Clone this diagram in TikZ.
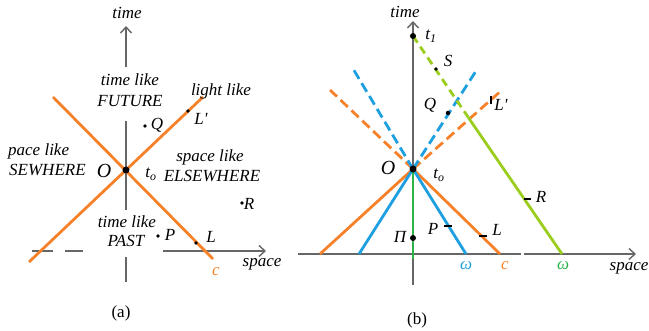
\documentclass[tikz,border=0pt]{standalone}
\usepackage{fontspec}
\setmainfont{Liberation Serif}
\usetikzlibrary{arrows.meta}
\definecolor{lcorange}{HTML}{F5822A}
\definecolor{lcblue}{HTML}{1E9FE0}
\definecolor{lclime}{HTML}{9ACD1E}
\definecolor{lcgreen}{HTML}{2DB34A}
\definecolor{axisgray}{HTML}{666666}
\begin{document}
\begin{tikzpicture}[x=1pt,y=-1pt,
  lbl/.style={font=\fontsize{17}{19}\selectfont\itshape, inner sep=0pt},
  capt/.style={font=\fontsize{17}{19}\selectfont, inner sep=0pt},
  axisline/.style={draw=axisgray, line width=1.4pt},
  axarrow/.style={-{Straight Barb[length=6pt,width=11pt]}},
  coneline/.style={line width=2.8pt},
  dashcone/.style={line width=2.8pt, dash pattern=on 10pt off 5pt},
  bigdot/.style={circle, fill=black, inner sep=0pt, minimum size=7pt},
  smalldot/.style={circle, fill=black, inner sep=0pt, minimum size=3.8pt},
  tickmark/.style={draw=black, line width=2.2pt}]
\useasboundingbox (0,0) rectangle (649,331);

% ---------------- panel (a) ----------------
\coordinate (Oa) at (126,170);
\coordinate (aTtop) at (126,26);
\coordinate (aT1) at (126,67);
\coordinate (aT2) at (126,121);
\coordinate (aT3) at (126,210);
\coordinate (aT4) at (126,257);
\coordinate (aT5) at (126,282);
\draw[axisline, axarrow] (aT1) -- (aTtop);
\draw[axisline] (aT2) -- (aT3);
\draw[axisline] (aT4) -- (aT5);
\coordinate (aS1) at (32,251);
\coordinate (aS2) at (53,251);
\coordinate (aS3) at (65,251);
\coordinate (aS4) at (83,251);
\coordinate (aS5) at (163,251);
\coordinate (aS6) at (266,251);
\draw[axisline] (aS1) -- (aS2);
\draw[axisline] (aS3) -- (aS4);
\draw[axisline, axarrow] (aS5) -- (aS6);

\coordinate (aUL) at (53,97);
\coordinate (aLR) at (213,259);
\coordinate (aUR) at (203,97);
\coordinate (aLL) at (29,262);
\draw[lcorange, coneline] (aUL) -- (aLR);
\draw[lcorange, coneline] (aUR) -- (aLL);

\node[bigdot] (dOa) at (Oa) {};
\node[smalldot] (dQa) at (145,126) {};
\node[smalldot] (dLpa) at (188,111) {};
\node[smalldot] (dRa) at (242,203) {};
\node[smalldot] (dPa) at (158,236) {};
\node[smalldot] (dLa) at (196,243) {};

\node[lbl] (atime) at (127,13) {time};
\node[lbl] (atl1) at (130,80) {time like};
\node[lbl] (afut) at (130,101) {FUTURE};
\node[lbl] (alight) at (221,91) {light like};
\node[lbl] (aLp) at (201,119) {L\textquotesingle};
\node[lbl] (aQ) at (157,125) {Q};
\node[lbl, anchor=west] (apace) at (8,151) {pace like};
\node[lbl, anchor=west] (asew) at (9,170) {SEWHERE};
\node[lbl, font=\fontsize{20}{22}\selectfont\itshape] (aO) at (104,171) {O};
\node[lbl] (ato) at (151,174) {t\textsubscript{o}};
\node[lbl] (aspl) at (210,157) {space like};
\node[lbl] (aels) at (212,176) {ELSEWHERE};
\node[lbl] (aR) at (249,204) {R};
\node[lbl] (atl2) at (127,222) {time like};
\node[lbl] (apast) at (126,241) {PAST};
\node[lbl] (aP) at (170,235) {P};
\node[lbl] (aL) at (211,237) {L};
\node[lbl] (aspace) at (262,264) {space};
\node[lbl, text=lcorange] (ac) at (216,272) {c};
\node[capt] (acap) at (121,313) {(a)};

% ---------------- panel (b) ----------------
\coordinate (Ob) at (413,169);
\coordinate (bTtop) at (413,21);
\coordinate (bTbot) at (413,285);
\draw[axisline, axarrow] (bTbot) -- (bTtop);
\coordinate (bS1) at (298,254);
\coordinate (bS2) at (521,254);
\coordinate (bS3) at (524,254);
\coordinate (bS4) at (636,254);
\draw[axisline] (bS1) -- (bS2);
\draw[axisline, axarrow] (bS3) -- (bS4);

\coordinate (bOL) at (320,254);
\coordinate (bOR) at (500,254);
\coordinate (bOUL) at (330,90);
\coordinate (bOUR) at (502,90);
\draw[lcorange, coneline] (bOL) -- (Ob) -- (bOR);
\draw[lcorange, dashcone] (Ob) -- (bOUL);
\draw[lcorange, dashcone] (Ob) -- (bOUR);

\coordinate (bBL) at (359,254);
\coordinate (bBR) at (466,254);
\coordinate (bBUL) at (352,67);
\coordinate (bBUR) at (476,71);
\draw[lcblue, coneline] (bBL) -- (Ob) -- (bBR);
\draw[lcblue, dashcone] (Ob) -- (bBUL);
\draw[lcblue, dashcone] (Ob) -- (bBUR);

\coordinate (bGbot) at (413,259);
\draw[lcgreen, coneline] (Ob) -- (bGbot);

\coordinate (t1) at (413,36);
\coordinate (bLmid) at (468,117);
\coordinate (bLbot) at (562,254);
\draw[lclime, line width=2.8pt, dash pattern=on 8pt off 5pt] (t1) -- (bLmid);
\draw[lclime, coneline] (bLmid) -- (bLbot);

\node[bigdot] (dOb) at (Ob) {};
\node[bigdot, minimum size=6pt] (dt1) at (t1) {};
\node[bigdot, minimum size=6pt] (dPi) at (413,238) {};
\node[smalldot] (dS) at (436,69) {};
\node[smalldot, minimum size=4.5pt] (dQb) at (448,113) {};
\draw[tickmark] (491,96) -- (491,104);
\draw[tickmark] (444,226) -- (452,226);
\draw[tickmark] (479,236) -- (487,236);
\draw[tickmark] (524,199) -- (531,199);

\node[lbl] (btime) at (405,12) {time};
\node[lbl] (bt1) at (431,36) {t\textsubscript{1}};
\node[lbl] (bS) at (448,61) {S};
\node[lbl] (bQ) at (430,105) {Q};
\node[lbl] (bLp) at (501,105) {L\textquotesingle};
\node[lbl, font=\fontsize{20}{22}\selectfont\itshape] (bO) at (388,168) {O};
\node[lbl] (bto) at (439,175) {t\textsubscript{o}};
\node[lbl] (bPi) at (400,237) {Π};
\node[lbl] (bP) at (433,229) {P};
\node[lbl] (bL) at (497,230) {L};
\node[lbl] (bR) at (541,197) {R};
\node[lbl, text=lcblue] (bw1) at (466,266) {ω};
\node[lbl, text=lcorange] (bc) at (505,266) {c};
\node[lbl, text=lcgreen] (bw2) at (563,266) {ω};
\node[lbl] (bspace) at (629,268) {space};
\node[capt] (bcap) at (417,320) {(b)};
\end{tikzpicture}
\end{document}
